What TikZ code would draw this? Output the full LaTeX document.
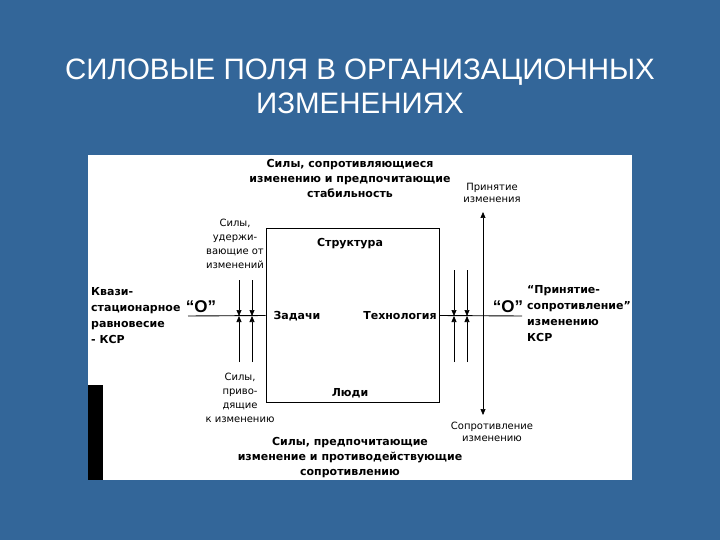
\documentclass[tikz,border=0pt]{standalone}
\usepackage{fontspec}
\setmainfont{Liberation Sans}
\newfontfamily\scanfont{DejaVu Sans}
\usetikzlibrary{arrows.meta}
\definecolor{bgblue}{RGB}{51,102,153}

\begin{document}
\begin{tikzpicture}[x=1pt, y=-1pt]
    \tikzstyle{title} = [text=white, font=\fontsize{29.5}{34}\selectfont, align=center]
    \tikzstyle{heading} = [font=\scanfont\fontsize{11}{15}\selectfont\bfseries, align=center, inner sep=0pt]
    \tikzstyle{note} = [font=\scanfont\fontsize{10}{14}\selectfont, align=center, inner sep=0pt]
    \tikzstyle{zero} = [font=\fontsize{17}{17}\selectfont\bfseries, inner sep=0pt]
    \tikzstyle{force} = [-{Triangle[length=6pt, width=5pt]}, line width=0.7pt]

    % Background and scanned sheet
    \fill[bgblue] (0,0) rectangle (720,540);
    \fill[white] (88,155) rectangle (632,480);
    \fill[black] (88,385) rectangle (103,480);

    % Title
    \node [title] (title) at (360,86) {СИЛОВЫЕ ПОЛЯ В ОРГАНИЗАЦИОННЫХ\\ИЗМЕНЕНИЯХ};

    % Organisation
    \node [draw, line width=1pt, minimum width=173, minimum height=173] (org) at (352.5,315.5) {};
    \node [heading] (structure) at (350,244) {Структура};
    \node [heading] (tasks) at (297,316) {Задачи};
    \node [heading] (technology) at (400,316) {Технология};
    \node [heading] (people) at (350,393) {Люди};

    % Equilibrium line
    \coordinate (left_end) at (188,316);
    \coordinate (right_end) at (522,316);
    \draw [line width=0.9pt] (left_end) -- (org.west);
    \draw [line width=0.9pt] (org.east) -- (right_end);
    \node [zero] (left_zero) at (201,307) {“О”};
    \node [zero] (right_zero) at (508,307) {“О”};

    % Forces
    \foreach \x/\top in {239/280, 252/280, 454/270, 467/270} {
        \coordinate (up_\x) at (\x,\top);
        \coordinate (mid_\x) at (\x,316);
        \coordinate (low_\x) at (\x,362);
        \draw [force] (up_\x) -- (mid_\x);
        \draw [force] (low_\x) -- (mid_\x);
    }

    % Acceptance and resistance
    \coordinate (accept_tip) at (483,212);
    \coordinate (resist_tip) at (483,415);
    \draw [force, {Triangle[length=6pt, width=5pt]}-{Triangle[length=6pt, width=5pt]}] (accept_tip) -- (resist_tip);

    % Labels
    \node [heading] (top_forces) at (350,178) {Силы, сопротивляющиеся\\изменению и предпочитающие\\стабильность};
    \node [heading] (bottom_forces) at (350,458) {Силы, предпочитающие\\изменение и противодействующие\\сопротивлению};
    \node [note, font=\scanfont\fontsize{10}{12}\selectfont] (accept_label) at (492,193) {Принятие\\изменения};
    \node [note, font=\scanfont\fontsize{10}{12}\selectfont] (resist_label) at (492,432) {Сопротивление\\изменению};
    \node [note] (hold_label) at (235,244) {Силы,\\удержи-\\вающие от\\изменений};
    \node [note] (drive_label) at (240,398) {Силы,\\приво-\\дящие\\к изменению};
    \node [heading, align=left, anchor=west, font=\scanfont\fontsize{11}{16}\selectfont\bfseries] (quasi_label) at (91,316) {Квази-\\стационарное\\равновесие\\- КСР};
    \node [heading, align=left, anchor=west, font=\scanfont\fontsize{11}{16}\selectfont\bfseries] (accept_resist) at (527,314) {“Принятие-\\сопротивление”\\изменению\\КСР};
\end{tikzpicture}
\end{document}
